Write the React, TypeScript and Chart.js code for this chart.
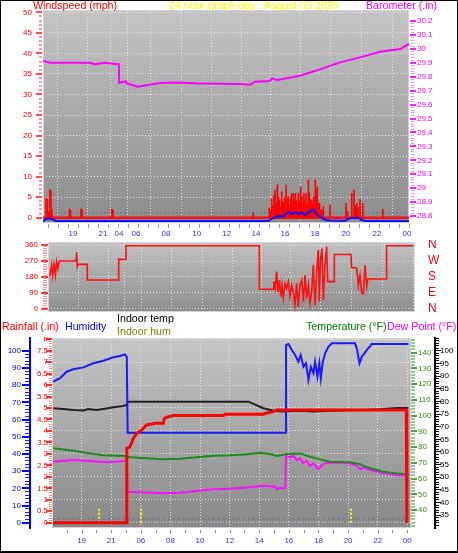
import React, { useEffect, useRef } from 'react';
import { Chart, registerables } from 'chart.js';

Chart.register(...registerables);

const FONT = "'Liberation Sans', Arial, Helvetica, sans-serif";
const GRID = 'rgba(232,232,232,0.9)';

type P = [number, number];

// ---------- axis ticks / labels ----------
const topTickPos = [1.99, 3.98, 5.04, 6.17, 8.17, 10.2, 12.2, 14.14, 16.07, 18.06, 20.12, 22.18, 24.17];
const topTickLabels = ['19', '21', '04', '06', '08', '10', '12', '14', '16', '18', '20', '22', '00'];
const bottomTickPos = [2, 4, 6, 8, 10, 12, 14, 16, 18, 20, 22, 24];
const bottomTickLabels = ['19', '21', '06', '08', '10', '12', '14', '16', '18', '20', '22', '00'];

const windTicks = [0, 5, 10, 15, 20, 25, 30, 35, 40, 45, 50];
const baroTicks = [28.8, 28.9, 29, 29.1, 29.2, 29.3, 29.4, 29.5, 29.6, 29.7, 29.8, 29.9, 30, 30.1, 30.2];
const dirTicks = [0, 90, 180, 270, 360];
const dirLabels = ['N', 'E', 'S', 'W', 'N'];
const humTicks = [0, 10, 20, 30, 40, 50, 60, 70, 80, 90, 100];
const rainTicks = [0, 0.5, 1, 1.5, 2, 2.5, 3, 3.5, 4, 4.5, 5, 5.5, 6, 6.5, 7, 7.5, 8];
const tempTicks = [40, 50, 60, 70, 80, 90, 100, 110, 120, 130, 140];
const indoorTicks = [35, 40, 45, 50, 55, 60, 65, 70, 75, 80, 85, 90, 95, 100];

// ---------- top panel data (x = display hour) ----------
const windGust: P[] = [
  [0.2, 4.7], [0.29, 4.5], [0.37, 1.5], [0.46, 6.9], [0.53, 6.5], [0.6, 2],
  [1.76, 2.1], [1.83, 1.8], [2.52, 2.1], [2.59, 2.0], [4.58, 2.1], [4.65, 1.8], [13.96, 1.2],
  [15.03, 2.3], [15.11, 1.5], [15.18, 4.7], [15.27, 3.0], [15.34, 5.5], [15.41, 6.7], [15.49, 3.5],
  [15.56, 8.0], [15.64, 5.0], [15.7, 4.3], [15.78, 2.5], [15.85, 6.3], [15.91, 4.0], [15.97, 3.5],
  [16.05, 5.0], [16.14, 8.0], [16.22, 4.5], [16.29, 5.1], [16.37, 3.0], [16.44, 4.8], [16.51, 5.9],
  [16.57, 3.8], [16.63, 5.9], [16.69, 4.5], [16.75, 5.9], [16.83, 4.3], [16.9, 3.2], [16.96, 5.9],
  [17.04, 4.0], [17.11, 7.5], [17.18, 5.0], [17.25, 3.6], [17.32, 5.9], [17.4, 4.2], [17.46, 5.9],
  [17.54, 3.5], [17.62, 9.2], [17.69, 6.0], [17.76, 4.3], [17.84, 4.3], [17.91, 3.2], [17.98, 5.0],
  [18.08, 9.2], [18.15, 6.5], [18.21, 7.5], [18.28, 3.5], [18.35, 3.5], [18.43, 2.0], [18.51, 1.9],
  [18.61, 2.7], [19.06, 3.1], [20.12, 3.5], [20.22, 1.5], [20.5, 5.9], [20.65, 6.7], [20.74, 3.0],
  [20.83, 3.5], [20.92, 2.5], [21.05, 4.5], [21.23, 3.5], [22.56, 2.1],
];
const windAvg: P[] = [
  [0, -0.9], [0.2, -0.3], [0.46, -0.2], [0.66, -0.45], [0.86, -0.8], [15.0, -0.8], [15.07, -0.56],
  [15.25, -0.15], [15.52, 0.25], [15.74, 0.41], [15.96, 0.25], [16.18, 1.07], [16.35, 1.47],
  [16.51, 0.9], [16.73, 1.22], [16.95, 0.9], [17.18, 1.22], [17.4, 0.66], [17.62, 1.22], [17.84, 1.7],
  [17.95, 2.04], [18.06, 1.47], [18.21, 0.66], [18.39, 0.25], [18.61, -0.32], [18.83, -0.64],
  [19.17, -0.73], [20.05, -0.73], [20.27, -0.32], [20.5, 0], [20.72, -0.15], [20.94, 0],
  [21.16, -0.56], [21.38, -0.8], [24.3, -0.8],
];
const gustBase: P[] = [[0, 0], [24.3, 0]];
const windDots: P[] = [[0.9, 1.2], [24.2, 1.2]];
const barometer: P[] = [
  [0, 29.913], [0.46, 29.9], [3.12, 29.9], [3.45, 29.89], [4.12, 29.9], [4.91, 29.89], [5.04, 29.89],
  [5.05, 29.757], [5.5, 29.766], [5.58, 29.751], [6.31, 29.728], [7.77, 29.755], [8.83, 29.758],
  [10.43, 29.752], [13.08, 29.748], [13.75, 29.742], [14.08, 29.764], [15.07, 29.769], [15.2, 29.788],
  [15.54, 29.776], [17.07, 29.807], [18.39, 29.853], [19.72, 29.903], [21.05, 29.939],
  [22.38, 29.979], [23.71, 29.999], [24.3, 30.035],
];

// ---------- middle panel data ----------
const windDir: P[] = [
  [0.13, 187], [0.24, 247], [0.31, 187], [0.4, 251], [0.49, 191], [0.57, 266], [0.66, 229], [0.75, 270],
  [1.85, 270], [1.9, 319], [1.94, 238], [1.99, 251], [2.6, 251], [2.6, 163], [4.68, 163], [4.68, 279],
  [5.16, 279], [5.16, 356], [13.99, 356], [13.99, 111], [14.96, 111], [14.96, 157], [15.05, 116],
  [15.14, 210], [15.23, 97], [15.32, 163], [15.41, 69], [15.49, 135], [15.58, 60], [15.69, 144],
  [15.8, 116], [15.91, 154], [16.02, 69], [16.13, 135], [16.24, 97], [16.35, 22], [16.46, 144],
  [16.57, 13], [16.68, 135], [16.8, 163], [16.91, 41], [17.02, 191], [17.13, 60], [17.24, 135],
  [17.35, 32], [17.46, 97], [17.57, 247], [17.68, 22], [17.79, 210], [17.9, 332], [17.96, 41],
  [18.05, 285], [18.14, 341], [18.23, 51], [18.34, 247], [18.45, 351], [18.52, 154], [18.96, 154],
  [18.96, 307], [20.06, 307], [20.1, 232], [20.39, 232], [20.44, 229], [20.55, 131], [20.66, 191],
  [20.77, 88], [20.88, 88], [20.99, 247], [21.1, 126], [21.17, 169], [22.42, 169], [22.42, 356],
  [24.19, 356],
];

// ---------- bottom panel data ----------
const humidity: P[] = [
  [0.09, 82], [0.54, 84], [0.99, 87.8], [1.44, 89.2], [2.12, 90.3], [2.79, 92.7], [3.47, 94.2],
  [4.14, 96.2], [4.59, 96.9], [4.93, 97.9], [5.05, 96.5], [5.11, 52.3], [15.81, 52.3], [15.81, 103.3],
  [15.97, 103.9], [16.2, 100.4], [16.42, 97.5], [16.64, 93.6], [16.8, 97.5], [16.98, 90.7],
  [17.16, 92.7], [17.32, 83], [17.48, 90.7], [17.66, 86.9], [17.77, 93.6], [17.93, 84.9],
  [18.06, 92.7], [18.16, 84], [18.29, 93.6], [18.45, 98.5], [18.67, 102.3], [18.9, 104.3],
  [20.47, 104.3], [20.59, 101.4], [20.77, 92.7], [20.93, 96.5], [21.26, 100.4], [21.6, 103.9],
  [24.07, 103.9],
];
const indoorTemp: P[] = [
  [0.09, 77.3], [0.77, 77.0], [1.44, 76.6], [2.12, 76.4], [2.46, 77.0], [3.0, 76.6], [3.56, 77.1],
  [4.14, 77.7], [4.82, 78.2], [5.05, 78.6], [5.11, 79.9], [13.27, 79.9], [14.28, 77.3], [14.95, 76.3],
  [15.63, 76.0], [16.53, 76.3], [17.66, 76.0], [18.78, 76.3], [19.91, 76.5], [21.04, 76.65],
  [22.16, 76.9], [23.29, 77.4], [24.07, 77.4],
];
const rainfall: P[] = [
  [0.09, 0], [5.05, 0], [5.05, 3.24], [5.27, 3.31], [5.5, 3.68], [5.72, 3.9], [6.06, 4.04],
  [6.28, 4.19], [6.4, 4.26], [6.74, 4.3], [6.96, 4.33], [7.52, 4.33], [7.59, 4.55], [7.86, 4.62],
  [8.2, 4.67], [11.57, 4.67], [11.69, 4.73], [14.28, 4.73], [14.39, 4.76], [14.95, 4.84],
  [15.18, 4.91], [23.93, 4.91], [23.97, 0],
];
const temperature: P[] = [
  [0.09, 79.2], [1.44, 77.7], [2.57, 76.0], [3.47, 74.8], [5.05, 74.3], [5.27, 73.5], [7.52, 72.2],
  [8.65, 72.6], [9.78, 73.5], [10.9, 74.5], [12.03, 74.8], [13.15, 75.4], [14.05, 76.4],
  [14.73, 75.6], [15.18, 74.3], [15.86, 75.6], [16.76, 76.0], [17.43, 73.9], [18.11, 72.2],
  [18.78, 70.7], [20.14, 70.3], [20.81, 69.1], [21.49, 66.5], [22.39, 64.4], [23.29, 63.3],
  [24.08, 62.7],
];
const dewPoint: P[] = [
  [0.09, 70.7], [1.44, 71.8], [2.57, 71.2], [3.47, 70.5], [4.37, 70.7], [5.05, 71.3], [5.11, 51.6],
  [6.4, 51.2], [7.52, 50.6], [8.65, 51.0], [9.78, 52.1], [10.9, 53.2], [12.03, 53.6], [13.15, 54.4],
  [14.28, 55.5], [15.07, 54.8], [15.18, 53.2], [15.3, 54.0], [15.75, 54.0], [15.81, 74.3],
  [16.08, 73.5], [16.3, 74.6], [16.53, 71.8], [16.75, 72.9], [16.98, 69.7], [17.2, 71.3],
  [17.43, 68.0], [17.66, 69.7], [17.88, 67.1], [18.0, 65.9], [18.22, 68.6], [18.56, 70.1],
  [19.23, 70.1], [20.14, 69.7], [20.59, 68.0], [20.81, 65.9], [21.04, 67.1], [21.49, 65.4],
  [22.39, 63.3], [23.29, 62.2], [24.08, 61.6],
];
const rainRate: P[] = [[3.18, 0.63], [6.01, 0.63], [20.2, 0.63]];
const rainDots: P[] = [[0.09, 0.16], [24.08, 0.16]];

// ---------- helpers ----------
const pts = (a: P[]) => a.map(([x, y]) => ({ x, y }));
const spikes = (a: P[]) => a.flatMap(([x, y]) => [{ x, y: 0 }, { x, y }, { x, y: null as any }]);
const fixedTicks = (vals: number[]) => (s: any) => { s.ticks = vals.map((v) => ({ value: v })); };
const noPad = (s: any) => { s.paddingTop = 0; s.paddingBottom = 0; s.paddingLeft = 0; s.paddingRight = 0; };
const setW = (w: number) => (s: any) => { s.width = w; noPad(s); };
const setH = (h: number) => (s: any) => { s.height = h; noPad(s); };
const fmt = (v: any) => String(Math.round(Number(v) * 100) / 100);
const font = (size: number) => ({ family: FONT, size });

function yMarks(chart: any, id: string, from: number, to: number, step: number, x0: number, x1: number, color: string, h: number) {
  const s = chart.scales[id];
  const ctx = chart.ctx;
  ctx.save();
  ctx.fillStyle = color;
  const n = Math.round((to - from) / step);
  for (let k = 0; k <= n; k++) {
    const y = s.getPixelForValue(from + k * step);
    ctx.fillRect(x0, Math.round(y - h / 2), x1 - x0, h);
  }
  ctx.restore();
}
function xMarks(chart: any, from: number, to: number, step: number, dy0: number, dy1: number, color: string) {
  const s = chart.scales.x;
  const ctx = chart.ctx;
  const b = chart.chartArea.bottom;
  ctx.save();
  ctx.fillStyle = color;
  const n = Math.round((to - from) / step);
  for (let k = 0; k <= n; k++) {
    const x = s.getPixelForValue(from + k * step);
    ctx.fillRect(Math.round(x), b + dy0, 1, dy1 - dy0);
  }
  ctx.restore();
}
function panel(c0: string, c1: string, decorate: (chart: any) => void) {
  return {
    id: 'panel',
    beforeDraw(chart: any) {
      const { ctx, chartArea: a } = chart;
      const g = ctx.createLinearGradient(0, a.top, 0, a.bottom);
      g.addColorStop(0, c0);
      g.addColorStop(1, c1);
      ctx.save();
      ctx.fillStyle = g;
      ctx.fillRect(a.left, a.top, a.right - a.left, a.bottom - a.top);
      ctx.strokeStyle = 'rgba(215,215,215,0.9)';
      ctx.lineWidth = 1;
      ctx.strokeRect(a.left + 0.5, a.top + 0.5, a.right - a.left - 1, a.bottom - a.top - 1);
      ctx.restore();
    },
    afterDraw(chart: any) { decorate(chart); },
  };
}
const line = (data: any, color: string, width: number, yAxisID: string, extra: any = {}) => ({
  type: 'line', data, borderColor: color, backgroundColor: color, borderWidth: width, pointRadius: 0,
  tension: 0, fill: false, yAxisID, ...extra,
});
const base = (padding: any) => ({
  responsive: false, maintainAspectRatio: false, animation: false, events: [],
  layout: { padding },
  plugins: { legend: { display: false }, tooltip: { enabled: false } },
});

// ---------- chart configs ----------
function topConfig() {
  return {
    type: 'line',
    data: {
      datasets: [
        line(pts(windAvg), '#1010ff', 2, 'y'),
        line(pts(barometer), '#ff00ff', 2, 'y2'),
        { type: 'bar', data: pts(windGust), backgroundColor: '#ff0000', barThickness: 1, grouped: false, yAxisID: 'y' },
        line(pts(gustBase), '#ff1010', 2.5, 'y'),
        line(pts(windDots), 'rgba(50,50,130,0.7)', 1, 'y', { borderDash: [1, 3] }),
      ],
    },
    options: {
      ...base({ left: 0, right: 0, top: 10, bottom: 0 }),
      scales: {
        x: {
          type: 'linear', min: 0, max: 24.3, offset: false,
          afterBuildTicks: fixedTicks(topTickPos), afterFit: setH(17),
          ticks: { autoSkip: false, maxRotation: 0, padding: 6, color: '#3333ff', font: font(8), callback: (_v: any, i: number) => topTickLabels[i] },
          grid: { color: GRID, drawTicks: false }, border: { display: false, dash: [1, 2] },
        },
        y: {
          position: 'left', min: -1.29, max: 50.56,
          afterBuildTicks: fixedTicks(windTicks), afterFit: setW(43),
          ticks: { autoSkip: false, padding: 11, color: '#ff0000', font: font(8), callback: fmt },
          grid: { color: GRID, drawTicks: false }, border: { display: false, dash: [1, 2] },
        },
        y2: {
          position: 'right', min: 28.75, max: 30.279,
          afterBuildTicks: fixedTicks(baroTicks), afterFit: setW(49),
          ticks: { autoSkip: false, padding: 8, color: '#ff00ff', font: font(8), callback: fmt },
          grid: { drawOnChartArea: false, drawTicks: false }, border: { display: false },
        },
      },
    },
    plugins: [panel('#c4c4c4', '#8c8c8c', (c) => {
      yMarks(c, 'y', 0, 50, 1, 39, 42, '#ff9a9a', 2);
      yMarks(c, 'y', 0, 50, 5, 36, 42, '#ff5050', 2);
      yMarks(c, 'y2', 28.8, 30.2, 0.02, 411, 414, '#ff88ff', 1);
      yMarks(c, 'y2', 28.8, 30.2, 0.1, 410, 416, '#ff20ff', 2);
      xMarks(c, 0.33, 24.3, 0.6667, 1, 5, '#a0a0a0');
    })],
  };
}

function midConfig() {
  return {
    type: 'line',
    data: { datasets: [line(pts(windDir), '#ff1010', 1.6, 'y')] },
    options: {
      ...base({ left: 0, right: 0, top: 2, bottom: 3 }),
      scales: {
        x: {
          type: 'linear', min: 0, max: 24.3, offset: false,
          afterBuildTicks: fixedTicks(topTickPos), afterFit: setH(0),
          ticks: { display: false }, grid: { color: GRID, drawTicks: false }, border: { display: false, dash: [1, 2] },
        },
        y: {
          position: 'left', min: -16.9, max: 376.9,
          afterBuildTicks: fixedTicks(dirTicks), afterFit: setW(48),
          ticks: { autoSkip: false, padding: 10, color: '#ff0000', font: font(8), callback: fmt },
          grid: { color: GRID, drawTicks: false }, border: { display: false, dash: [1, 2] },
        },
        y2: {
          position: 'right', min: -16.9, max: 376.9,
          afterBuildTicks: fixedTicks(dirTicks), afterFit: setW(43),
          ticks: { autoSkip: false, padding: 13, color: '#ff0000', font: font(12), callback: (v: any) => dirLabels[dirTicks.indexOf(Number(v))] },
          grid: { drawOnChartArea: false, drawTicks: false }, border: { display: false },
        },
      },
    },
    plugins: [panel('#c2c2c2', '#8e8e8e', (c) => {
      yMarks(c, 'y', 0, 360, 10, 43, 47, '#ff9a9a', 1);
      yMarks(c, 'y', 0, 360, 90, 41, 48, '#ff4040', 2);
    })],
  };
}

function botConfig() {
  const yellowBars = spikes(rainRate);
  return {
    type: 'line',
    data: {
      datasets: [
        line(pts(rainfall), '#ff0000', 3, 'rain'),
        line(pts(humidity), '#1a1aff', 2, 'hum'),
        line(pts(indoorTemp), '#222222', 2, 'indoor'),
        line(pts(temperature), '#1e8a1e', 2, 'temp'),
        line(pts(dewPoint), '#ff10ff', 2, 'temp'),
        line(yellowBars, '#ffff00', 2, 'rain', { borderDash: [2, 2], spanGaps: false }),
        line(pts(rainDots), 'rgba(60,60,170,0.75)', 1, 'rain', { borderDash: [1, 4] }),
      ],
    },
    options: {
      ...base({ left: 0, right: 0, top: 1, bottom: 0 }),
      scales: {
        x: {
          type: 'linear', min: 0, max: 24.25, offset: false,
          afterBuildTicks: fixedTicks(bottomTickPos), afterFit: setH(25),
          ticks: { autoSkip: false, maxRotation: 0, padding: 8, color: '#3333ff', font: font(8), callback: (_v: any, i: number) => bottomTickLabels[i] },
          grid: { color: GRID, drawTicks: false }, border: { display: false, dash: [1, 2] },
        },
        hum: {
          position: 'left', weight: 1, min: -3.08, max: 107.4,
          afterBuildTicks: fixedTicks(humTicks), afterFit: setW(30),
          ticks: { autoSkip: false, padding: 9, color: '#0000ff', font: font(8), callback: fmt },
          grid: { drawOnChartArea: false, drawTicks: false }, border: { display: true, color: '#0000ff', width: 2 },
        },
        rain: {
          position: 'left', weight: 0, min: -0.23, max: 8.05,
          afterBuildTicks: fixedTicks(rainTicks), afterFit: setW(22),
          ticks: { autoSkip: false, padding: 4, color: '#ff0000', font: font(8), callback: fmt },
          grid: { color: (ctx: any) => (ctx.tick && Number.isInteger(ctx.tick.value) ? GRID : 'rgba(0,0,0,0)'), drawTicks: false },
          border: { display: false, dash: [1, 2] },
        },
        temp: {
          position: 'right', weight: 0, min: 28.6, max: 149.3,
          afterBuildTicks: fixedTicks(tempTicks), afterFit: setW(24),
          ticks: { autoSkip: false, padding: 7, color: '#3a8a10', font: font(8), callback: fmt },
          grid: { drawOnChartArea: false, drawTicks: false }, border: { display: false },
        },
        indoor: {
          position: 'right', weight: 1, min: 29.9, max: 105.1,
          afterBuildTicks: fixedTicks(indoorTicks), afterFit: setW(23),
          ticks: { autoSkip: false, padding: 5, color: '#000000', font: font(8), callback: fmt },
          grid: { drawOnChartArea: false, drawTicks: false }, border: { display: true, color: '#000000', width: 2 },
        },
      },
    },
    plugins: [panel('#c6c6c6', '#888888', (c) => {
      yMarks(c, 'hum', 0, 100, 2, 25, 29, '#2020ff', 1);
      yMarks(c, 'hum', 0, 100, 10, 22, 29, '#0000ff', 2);
      yMarks(c, 'rain', 0, 8, 0.1, 49, 52, '#ff8a8a', 1);
      yMarks(c, 'rain', 0, 8, 0.5, 46, 52, '#ff3030', 2);
      yMarks(c, 'temp', 30, 148, 2, 411, 415, '#94cc94', 2);
      yMarks(c, 'temp', 40, 140, 10, 411, 417, '#50a050', 2);
      yMarks(c, 'indoor', 31, 105, 1, 436, 439, '#000000', 1);
      yMarks(c, 'indoor', 35, 100, 5, 436, 441, '#000000', 1);
      xMarks(c, 1, 24, 1, 2, 5, '#909090');
    })],
  };
}

function ChartCanvas({ top, height, build }: { top: number; height: number; build: () => any }) {
  const ref = useRef<HTMLCanvasElement>(null);
  useEffect(() => {
    const chart = new Chart(ref.current as HTMLCanvasElement, build());
    return () => chart.destroy();
  }, []);
  return (
    <canvas ref={ref} width={458} height={height}
      style={{ position: 'absolute', left: 0, top, width: 458, height, display: 'block' }} />
  );
}

function Label({ x, base, color, children }: { x: number; base: number; color: string; children: any }) {
  return (
    <div style={{ position: 'absolute', left: x, top: base - 9.7, fontFamily: FONT, fontSize: '10.67px', lineHeight: '12px', color, whiteSpace: 'nowrap' }}>
      {children}
    </div>
  );
}

export default function App() {
  return (
    <div style={{ position: 'absolute', left: 0, top: 0, width: 458, height: 553, background: '#ffffff', overflow: 'hidden' }}>
      <ChartCanvas top={0} height={240} build={topConfig} />
      <ChartCanvas top={240} height={75} build={midConfig} />
      <ChartCanvas top={337} height={216} build={botConfig} />

      <Label x={33} base={9} color="#ff0000">Windspeed (mph)</Label>
      <Label x={169} base={9} color="#ffff00">24 hour graph day : August 03 2026</Label>
      <Label x={366} base={9} color="#ff00ff">Barometer (.in)</Label>

      <Label x={2} base={329.5} color="#ff0000">Rainfall (.in)</Label>
      <Label x={65} base={329.5} color="#0000ff">Humidity</Label>
      <Label x={117} base={322} color="#000000">Indoor temp</Label>
      <Label x={117} base={335} color="#808000">Indoor hum</Label>
      <Label x={306} base={329.5} color="#008000">Temperature (°F)</Label>
      <Label x={387} base={329.5} color="#ff00ff">Dew Point (°F)</Label>

      <div style={{ position: 'absolute', left: 0, top: 0, width: 458, height: 553, boxSizing: 'border-box', borderStyle: 'solid', borderColor: '#000', borderWidth: '1px 1px 2px 1px', pointerEvents: 'none' }} />
    </div>
  );
}
